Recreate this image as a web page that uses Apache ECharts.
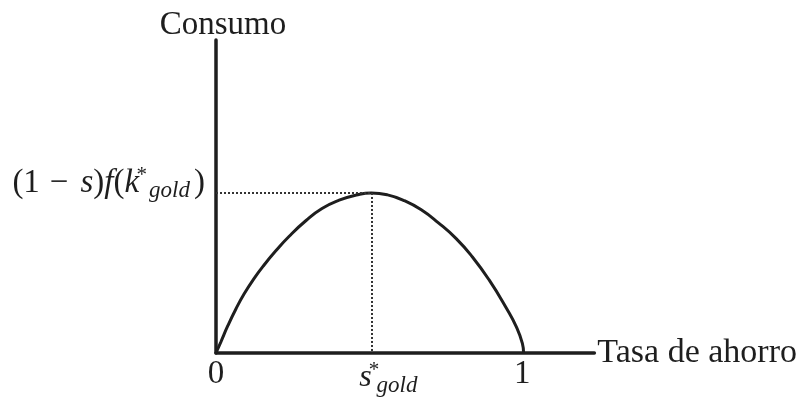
<!DOCTYPE html>
<html>
<head>
<meta charset="utf-8">
<script src="https://cdn.jsdelivr.net/npm/echarts@6/dist/echarts.min.js"></script>
<style>
  html, body { margin: 0; padding: 0; background: #fff; }
  #chart { width: 800px; height: 398px; }
</style>
</head>
<body>
<div id="chart"></div>
<script>
// Savings rate (s) and steady-state consumption, normalised so the golden-rule peak is 1
const savingsRate = [0, 0.016, 0.039, 0.065, 0.092, 0.124, 0.157, 0.196, 0.239, 0.294, 0.346, 0.402, 0.458, 0.507, 0.56, 0.615, 0.67, 0.725, 0.784, 0.837, 0.892, 0.948, 0.980, 1.0, 1.004];
const consumption = [0, 0.07, 0.172, 0.275, 0.37, 0.465, 0.55, 0.64, 0.73, 0.828, 0.903, 0.955, 0.987, 1.0, 0.988, 0.952, 0.895, 0.815, 0.715, 0.600, 0.455, 0.28, 0.165, 0.06, 0];

// Golden-rule point
const sGold = 0.507;
const cGold = 1.0;

// Tick positions on the axes and their labels
const xTickValues = [0, sGold, 1];
const xTickLabels = ['{n|0}', '{is|s}{sup|*}{sub|gold}', '{n|1}'];
const yTickValues = [cGold];
const yTickLabels = ['{n|(1}{m|−}{i|s}{n|)}{i|f}{n|(}{i|k}{supk|*}{sub|gold}{n|)}'];

const serif = '"Liberation Serif", "DejaVu Serif", serif';
const ink = '#1e1e1e';

const mathRich = {
  n:    { fontFamily: serif, fontSize: 33, color: ink },
  m:    { fontFamily: serif, fontSize: 33, color: ink, padding: [0, 12, 0, 10] },
  i:    { fontFamily: serif, fontSize: 33, fontStyle: 'italic', color: ink },
  is:   { fontFamily: serif, fontSize: 32, fontStyle: 'italic', color: ink, padding: [0, 0, 0, 38] },
  sup:  { fontFamily: serif, fontSize: 21, color: ink, width: 1, padding: [0, 0, 14, 2] },
  supk: { fontFamily: serif, fontSize: 21, color: ink, width: 1, padding: [0, 0, 14, 7] },
  sub:  { fontFamily: serif, fontSize: 23, fontStyle: 'italic', color: ink, padding: [16, 4, 0, 2] }
};

const chart = echarts.init(document.getElementById('chart'), null, { renderer: 'canvas' });

chart.setOption({
  backgroundColor: '#fff',
  animation: false,
  grid: { left: 216, right: 205, top: 40, bottom: 45, containLabel: false },
  xAxis: {
    type: 'value',
    min: 0,
    max: 1.235,
    name: 'Tasa de ahorro',
    nameLocation: 'end',
    nameGap: 3,
    nameTextStyle: { fontFamily: serif, fontSize: 34, color: ink, verticalAlign: 'middle', padding: [0, 0, 6, 0] },
    axisLine: { show: true, onZero: false, lineStyle: { color: ink, width: 3.5 } },
    axisTick: { show: false },
    splitLine: { show: false },
    axisLabel: {
      show: true,
      customValues: xTickValues,
      margin: 5,
      formatter: (v) => xTickLabels[xTickValues.indexOf(v)] || '',
      rich: mathRich
    }
  },
  yAxis: {
    type: 'value',
    min: 0,
    max: 1.956,
    name: 'Consumo',
    nameLocation: 'end',
    nameGap: -2,
    nameTextStyle: { fontFamily: serif, fontSize: 33, color: ink, align: 'center', padding: [0, 0, 0, 14] },
    axisLine: { show: true, onZero: false, lineStyle: { color: ink, width: 3.5 } },
    axisTick: { show: false },
    splitLine: { show: false },
    axisLabel: {
      show: true,
      customValues: yTickValues,
      margin: 11,
      padding: [0, 0, 20, 0],
      formatter: (v) => yTickLabels[yTickValues.indexOf(v)] || '',
      rich: mathRich
    }
  },
  series: [{
    type: 'line',
    data: savingsRate.map((s, k) => [s, consumption[k]]),
    smooth: 0.5,
    showSymbol: false,
    symbol: 'none',
    lineStyle: { color: ink, width: 3 },
    markLine: {
      silent: true,
      symbol: 'none',
      label: { show: false },
      lineStyle: { color: '#333', width: 2, type: [2, 2] },
      data: [
        [{ coord: [0, cGold] }, { coord: [sGold, cGold] }],
        [{ coord: [sGold, cGold] }, { coord: [sGold, 0] }]
      ]
    }
  }]
});
</script>
</body>
</html>
